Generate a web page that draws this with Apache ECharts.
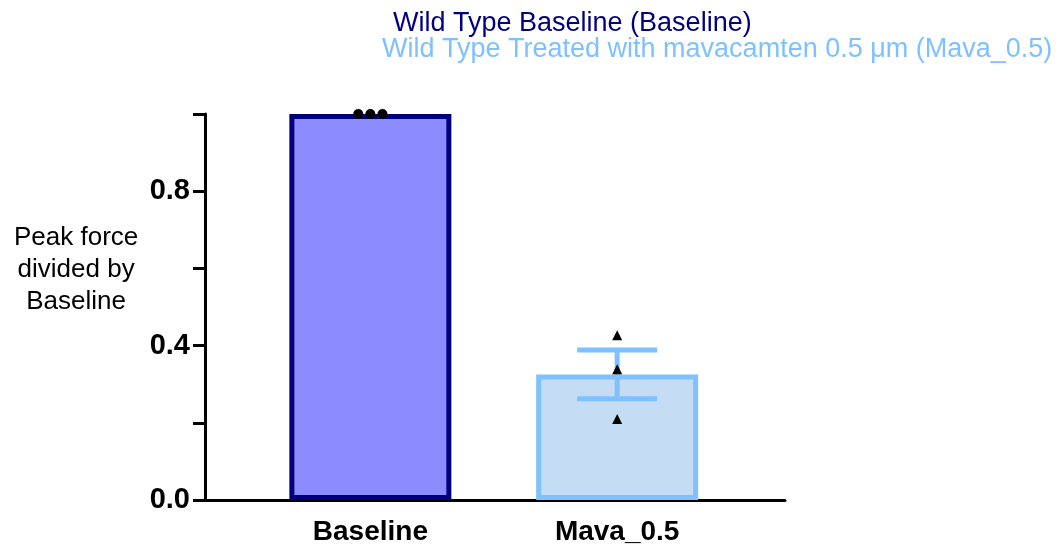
<!DOCTYPE html>
<html>
<head>
<meta charset="utf-8">
<script src="https://cdn.jsdelivr.net/npm/echarts@6/dist/echarts.min.js"></script>
<style>html,body{margin:0;padding:0;background:#fff}#c{width:1062px;height:552px}</style>
</head>
<body>
<div id="c"></div>
<script>
// ---- data ----
const categories = ['Baseline', 'Mava_0.5'];
const groupNames = ['Wild Type Baseline (Baseline)', 'Wild Type Treated with mavacamten 0.5 \u03bcm (Mava_0.5)'];
const baselinePoints = [1.0, 1.0, 1.0];
const mavaPoints = [0.427, 0.339, 0.210];
const baselineJitter = [-0.049, 0, 0.049]; // horizontal spread of overlapping points (axis units)
const mavaJitter = [0, 0, 0];
const yTicks = ['0.0', '0.4', '0.8'];

function mean(a){return a.reduce((s,v)=>s+v,0)/a.length;}
function sem(a){const m=mean(a);const v=a.reduce((s,x)=>s+(x-m)*(x-m),0)/(a.length-1);return Math.sqrt(v/a.length);}

const groups = [baselinePoints, mavaPoints];
const means = groups.map(mean);
const sems = groups.map(sem);

const FONT = 'Arial, "Liberation Sans", Helvetica, sans-serif';
const navy = '#00007f', navyFill = '#8c8cff';
const lblue = '#80c0ff', lblueFill = '#c4ddf5';

const legendBase = {
  orient: 'vertical', itemWidth: 0, itemHeight: 0, icon: 'none', selectedMode: false,
  textStyle: {fontFamily: FONT, fontSize: 27, lineHeight: 24}
};

const chart = echarts.init(document.getElementById('c'));
chart.setOption({
  animation: false,
  legend: [
    Object.assign({}, legendBase, {left: 383, top: 5, data: [{name: groupNames[0], textStyle: {color: navy}}]}),
    Object.assign({}, legendBase, {left: 372, top: 31, data: [{name: groupNames[1], textStyle: {color: lblue}}]})
  ],
  grid: {left: 205, top: 114, width: 580, height: 386},
  xAxis: {
    type: 'value', min: 0.33, max: 2.68,
    splitLine: {show: false},
    axisLine: {show: true, lineStyle: {color: '#000', width: 3}},
    axisTick: {show: false},
    axisLabel: {
      customValues: [1, 2],
      formatter: v => categories[Math.round(v) - 1] || '',
      fontFamily: FONT, fontSize: 28, fontWeight: 'bold', color: '#000', margin: 18
    }
  },
  yAxis: {
    type: 'value', min: 0, max: 1.0, interval: 0.2,
    splitLine: {show: false},
    axisLine: {show: true, lineStyle: {color: '#000', width: 3}},
    axisTick: {show: true, length: 12, lineStyle: {color: '#000', width: 3}},
    axisLabel: {
      formatter: v => { const s = v.toFixed(1); return yTicks.indexOf(s) >= 0 ? s : ''; },
      fontFamily: FONT, fontSize: 29, fontWeight: 'bold', color: '#000', margin: 15
    }
  },
  graphic: [{
    type: 'text', left: 14, top: 222,
    style: {text: 'Peak force\ndivided by\nBaseline', textAlign: 'center', x: 63, fontFamily: FONT, fontSize: 26, lineHeight: 32, fill: '#000'}
  }],
  series: [
    {
      name: groupNames[0], type: 'bar', barWidth: 162, barGap: '-100%',
      itemStyle: {color: navyFill, borderColor: navy, borderWidth: 5},
      data: [[1, means[0]]], z: 2
    },
    {
      name: groupNames[1], type: 'bar', barWidth: 162, barGap: '-100%',
      itemStyle: {color: lblueFill, borderColor: lblue, borderWidth: 5},
      data: [[2, means[1]]], z: 2
    },
    {
      type: 'custom', z: 3,
      data: means.map((m, i) => [i + 1, m, sems[i]]),
      renderItem: function (params, api) {
        const x = api.value(0), m = api.value(1), s = api.value(2);
        if (!s) return null;
        const top = api.coord([x, m + s]), bot = api.coord([x, m - s]);
        const hw = 40;
        const color = x === 1 ? navy : lblue;
        const st = {stroke: color, lineWidth: 5};
        return {type: 'group', children: [
          {type: 'line', shape: {x1: top[0], y1: top[1], x2: bot[0], y2: bot[1]}, style: st},
          {type: 'line', shape: {x1: top[0] - hw, y1: top[1], x2: top[0] + hw, y2: top[1]}, style: st},
          {type: 'line', shape: {x1: bot[0] - hw, y1: bot[1], x2: bot[0] + hw, y2: bot[1]}, style: st}
        ]};
      }
    },
    {
      type: 'scatter', symbol: 'circle', symbolSize: 10, z: 4,
      itemStyle: {color: '#000', opacity: 1},
      data: baselinePoints.map((v, i) => [1 + baselineJitter[i], v])
    },
    {
      type: 'scatter', symbol: 'triangle', symbolSize: 10, z: 4,
      itemStyle: {color: '#000', opacity: 1},
      data: mavaPoints.map((v, i) => [2 + mavaJitter[i], v])
    }
  ]
});
</script>
</body>
</html>
